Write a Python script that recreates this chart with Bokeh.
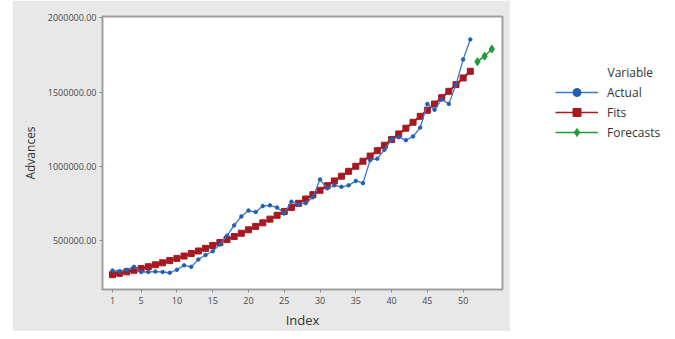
import math
from bokeh.plotting import figure
from bokeh.models import (ColumnDataSource, Range1d, FixedTicker, Legend, LegendItem,
                          Label, Spacer)
from bokeh.layouts import row
from bokeh.embed import file_html
from bokeh.resources import INLINE

# ---- data ----
index_actual = list(range(1, 52))
actual = [295000, 290000, 300000, 320000, 285000, 285000, 288000, 285000, 280000, 300000,
          330000, 320000, 370000, 400000, 425000, 470000, 530000, 600000, 660000, 700000,
          690000, 730000, 735000, 720000, 680000, 760000, 740000, 750000, 790000, 910000,
          850000, 870000, 860000, 870000, 900000, 885000, 1040000, 1050000, 1110000, 1180000,
          1195000, 1175000, 1200000, 1260000, 1420000, 1380000, 1450000, 1420000, 1550000, 1720000,
          1855000]
fits = [267000, 276000, 286000, 297000, 308000, 321000, 334000, 347000, 362000, 377000,
        393000, 410000, 427000, 445000, 464000, 484000, 504000, 525000, 547000, 570000,
        593000, 617000, 642000, 668000, 694000, 721000, 749000, 778000, 807000, 837000,
        868000, 900000, 932000, 965000, 999000, 1033000, 1068000, 1104000, 1141000, 1179000,
        1217000, 1256000, 1296000, 1336000, 1377000, 1419000, 1462000, 1505000, 1550000, 1595000,
        1640000]
index_forecast = [52, 53, 54]
forecasts = [1705000, 1742000, 1790000]

x_ticks = [1, 5, 10, 15, 20, 25, 30, 35, 40, 45, 50]
y_ticks = [500000, 1000000, 1500000, 2000000]
y_tick_labels = ["500000.00", "1000000.00", "1500000.00", "2000000.00"]

FONT = "Open Sans"
BLUE = "#1f5fb4"
BLUE_LINE = "#3a78c8"
RED = "#a81820"
GREEN = "#1e9a3a"
GRAY_BG = "#e8e8e8"

p = figure(width=498, height=331, output_backend="svg", toolbar_location=None,
           x_range=Range1d(-0.4, 55.5), y_range=Range1d(167000, 2010000),
           min_border_left=90, min_border_right=8, min_border_top=16, min_border_bottom=38)
p.border_fill_color = GRAY_BG
p.background_fill_color = "white"
p.outline_line_color = "#a0a0a0"
p.outline_line_width = 2
p.xgrid.visible = False
p.ygrid.visible = False

src_a = ColumnDataSource(dict(x=index_actual, y=actual))
src_f = ColumnDataSource(dict(x=index_actual, y=fits))
src_fc = ColumnDataSource(dict(x=index_forecast, y=forecasts))

p.line("x", "y", source=src_f, line_color=RED, line_width=2)
p.scatter("x", "y", source=src_f, marker="square", size=6, fill_color=RED, line_color=RED)
p.line("x", "y", source=src_a, line_color=BLUE_LINE, line_width=1.3)
p.scatter("x", "y", source=src_a, marker="circle", size=3.5, fill_color=BLUE, line_color=BLUE)
p.line("x", "y", source=src_fc, line_color=GREEN, line_width=1.5)
p.scatter("x", "y", source=src_fc, marker="diamond", size=8, fill_color=GREEN, line_color=GREEN)

p.xaxis.ticker = FixedTicker(ticks=x_ticks)
p.yaxis.ticker = FixedTicker(ticks=y_ticks)
p.yaxis.major_label_overrides = {t: l for t, l in zip(y_ticks, y_tick_labels)}
for ax in (p.xaxis[0], p.yaxis[0]):
    ax.axis_line_color = None
    ax.major_tick_line_color = "#8a8a8a"
    ax.major_tick_out = 3
    ax.major_tick_in = 0
    ax.minor_tick_line_color = None
    ax.major_label_text_font = FONT
    ax.major_label_text_font_size = "9px"
    ax.major_label_text_color = "#4a4a4a"
    ax.axis_label_text_font = FONT
    ax.axis_label_text_font_style = "normal"
    ax.axis_label_text_color = "#333333"
p.xaxis.axis_label = "Index"
p.yaxis.axis_label = "Advances"
p.xaxis.axis_label_text_font_size = "13px"
p.yaxis.axis_label_text_font_size = "12px"
p.xaxis.major_label_standoff = 4
p.xaxis.axis_label_standoff = 4
p.yaxis.major_label_standoff = 3
p.yaxis.axis_label_standoff = 6

# ---- legend panel ----
lg = figure(width=157, height=331, output_backend="svg", toolbar_location=None,
            x_range=Range1d(0, 1), y_range=Range1d(0, 1),
            x_axis_type=None, y_axis_type=None,
            min_border_left=0, min_border_right=0, min_border_top=0, min_border_bottom=0)
lg.outline_line_color = None
lg.border_fill_color = "white"
lg.background_fill_color = "white"
lg.xgrid.visible = False
lg.ygrid.visible = False

nan_src = ColumnDataSource(dict(x=[math.nan], y=[math.nan]))
ra_l = lg.line("x", "y", source=nan_src, line_color=BLUE_LINE, line_width=1.5)
ra_m = lg.scatter("x", "y", source=nan_src, marker="circle", size=7, fill_color=BLUE, line_color=BLUE)
rf_l = lg.line("x", "y", source=nan_src, line_color=RED, line_width=1.5)
rf_m = lg.scatter("x", "y", source=nan_src, marker="square", size=8, fill_color=RED, line_color=RED)
rc_l = lg.line("x", "y", source=nan_src, line_color=GREEN, line_width=1.5)
rc_m = lg.scatter("x", "y", source=nan_src, marker="diamond", size=12, fill_color=GREEN, line_color=GREEN)

legend = Legend(items=[LegendItem(label="Actual", renderers=[ra_l, ra_m]),
                       LegendItem(label="Fits", renderers=[rf_l, rf_m]),
                       LegendItem(label="Forecasts", renderers=[rc_l, rc_m])],
                location=(45, 147), padding=0, margin=0, spacing=0,
                glyph_width=43, glyph_height=20, label_height=20, label_standoff=9,
                border_line_color=None, background_fill_alpha=0,
                label_text_font=FONT, label_text_font_size="12px", label_text_color="#333333")
lg.add_layout(legend)
lg.add_layout(Label(x=97, y=217, x_units="screen", y_units="screen", text="Variable",
                    text_font=FONT, text_font_size="12px", text_color="#333333",
                    text_baseline="middle"))

layout = row(Spacer(width=12, height=331), p, lg)
open("out.html", "w").write(file_html(layout, INLINE))
